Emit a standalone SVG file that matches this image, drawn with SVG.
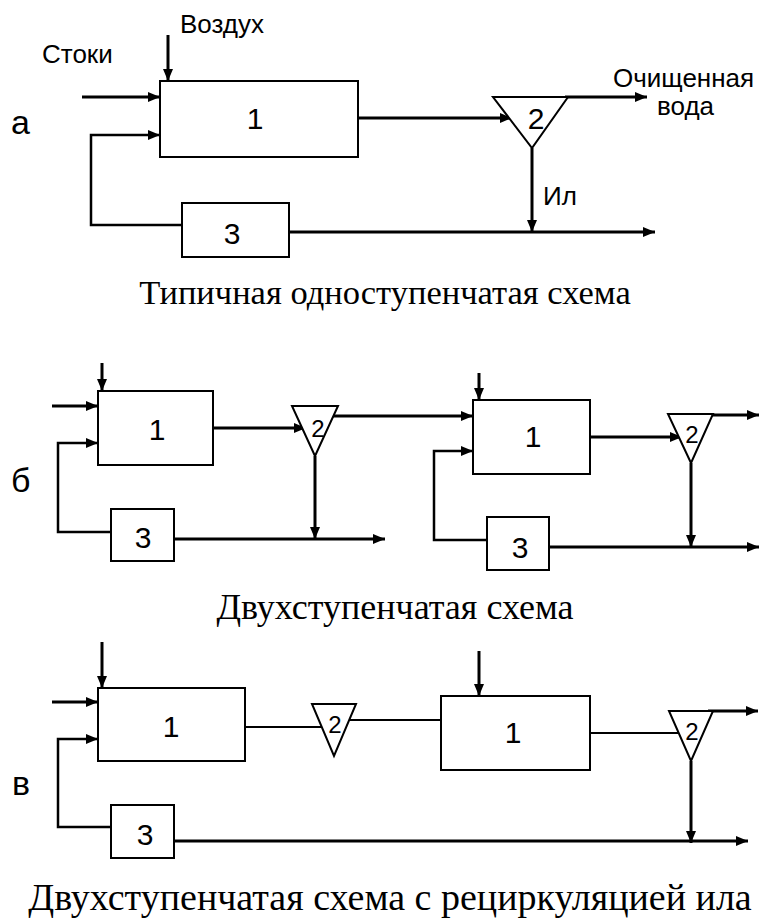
<svg xmlns="http://www.w3.org/2000/svg" width="760" height="924" viewBox="0 0 760 924">
<defs>
<marker id="ah" markerUnits="userSpaceOnUse" markerWidth="12" markerHeight="10" refX="12" refY="5" orient="auto">
<path d="M0,0 L12,5 L0,10 z" fill="#000"/>
</marker>
<style>
.box{fill:#fff;stroke:#000;stroke-width:2}
.tri{fill:#fff;stroke:#000;stroke-width:2}
.c{fill:none;stroke:#000;stroke-width:3}
.cr{fill:none;stroke:#000;stroke-width:2.5}
.ct{fill:none;stroke:#000;stroke-width:2}
.a{marker-end:url(#ah)}
.num{font-family:"Liberation Sans",Arial,sans-serif;font-size:30px;text-anchor:middle;fill:#000}
.lbl{font-family:"Liberation Sans",Arial,sans-serif;font-size:26px;fill:#000}
.sec{font-family:"Liberation Sans",Arial,sans-serif;font-size:34px;fill:#000}
.ttl{font-family:"Liberation Serif","Times New Roman",serif;font-size:36px;text-anchor:middle;fill:#000}
</style>
</defs>
<rect width="760" height="924" fill="#fff"/>

<g id="connectors">
<!-- section a -->
<line class="c a" x1="168" y1="35" x2="168" y2="81"/>
<line class="c a" x1="82" y1="97" x2="160" y2="97"/>
<polyline class="cr a" points="182,225 91,225 91,135 160,135"/>
<line class="c a" x1="358" y1="118" x2="512" y2="118"/>
<line class="c a" x1="565" y1="97" x2="647" y2="97"/>
<line class="c a" x1="532" y1="148" x2="532" y2="232"/>
<line class="c a" x1="289" y1="232" x2="655" y2="232"/>
<!-- section b -->
<line class="c a" x1="102" y1="363" x2="102" y2="391"/>
<line class="c a" x1="52" y1="406" x2="98" y2="406"/>
<polyline class="cr a" points="111,532 58,532 58,443 98,443"/>
<line class="c a" x1="213" y1="428" x2="306" y2="428"/>
<line class="c a" x1="333" y1="416" x2="473" y2="416"/>
<line class="c a" x1="315" y1="456" x2="315" y2="539"/>
<line class="c a" x1="174" y1="539" x2="385" y2="539"/>
<line class="c a" x1="479" y1="373" x2="479" y2="400"/>
<polyline class="cr a" points="487,540 434,540 434,451 473,451"/>
<line class="c a" x1="590" y1="437" x2="682" y2="437"/>
<line class="c a" x1="711" y1="415" x2="759" y2="415"/>
<line class="c a" x1="691" y1="463" x2="691" y2="547"/>
<line class="c a" x1="549" y1="547" x2="759" y2="547"/>
<!-- section v -->
<line class="c a" x1="102" y1="642" x2="102" y2="688"/>
<line class="c a" x1="52" y1="702" x2="98" y2="702"/>
<polyline class="cr a" points="111,827 58,827 58,739 98,739"/>
<line class="ct" x1="245" y1="727" x2="322" y2="727"/>
<line class="ct" x1="349" y1="720" x2="441" y2="720"/>
<line class="c a" x1="479" y1="651" x2="479" y2="696"/>
<line class="ct" x1="590" y1="733" x2="683" y2="733"/>
<line class="c a" x1="708" y1="711" x2="758" y2="711"/>
<line class="c a" x1="691" y1="761" x2="691" y2="843"/>
<line class="c a" x1="174" y1="841" x2="748" y2="841"/>
</g>

<g id="section-a">
<g id="a-box1"><rect class="box" x="160" y="81" width="198" height="76"/><text class="num" x="255" y="129">1</text></g>
<g id="a-tri2"><polygon class="tri" points="493,97 568,97 532,148"/><text class="num" x="536" y="129">2</text></g>
<g id="a-box3"><rect class="box" x="182" y="203" width="107" height="54"/><text class="num" x="232" y="244">3</text></g>
<text class="sec" x="11" y="134">а</text>
<text class="lbl" x="180" y="33">Воздух</text>
<text class="lbl" x="42" y="63">Стоки</text>
<text class="lbl" x="613" y="87">Очищенная</text>
<text class="lbl" x="657" y="115">вода</text>
<text class="lbl" x="543" y="205">Ил</text>
<text class="ttl" x="385" y="304" style="font-size:34.5px">Типичная одноступенчатая схема</text>
</g>

<g id="section-b">
<g id="b-box1a"><rect class="box" x="98" y="391" width="115" height="74"/><text class="num" x="157" y="440">1</text></g>
<g id="b-tri2a"><polygon class="tri" points="292,406 338,406 315,456"/><text class="num" x="318" y="437" style="font-size:24px">2</text></g>
<g id="b-box3a"><rect class="box" x="111" y="509" width="63" height="52"/><text class="num" x="143" y="548">3</text></g>
<g id="b-box1b"><rect class="box" x="473" y="400" width="117" height="74"/><text class="num" x="533" y="447">1</text></g>
<g id="b-tri2b"><polygon class="tri" points="668,414 713,414 691,463"/><text class="num" x="692" y="443" style="font-size:24px">2</text></g>
<g id="b-box3b"><rect class="box" x="487" y="517" width="62" height="53"/><text class="num" x="520" y="558">3</text></g>
<text class="sec" x="11" y="492">б</text>
<text class="ttl" x="395" y="619">Двухступенчатая схема</text>
</g>

<g id="section-v">
<g id="v-box1a"><rect class="box" x="98" y="688" width="147" height="73"/><text class="num" x="171" y="737">1</text></g>
<g id="v-tri2a"><polygon class="tri" points="312,704 356,704 334,756"/><text class="num" x="335" y="733" style="font-size:24px">2</text></g>
<g id="v-box3"><rect class="box" x="111" y="805" width="63" height="53"/><text class="num" x="145" y="845">3</text></g>
<g id="v-box1b"><rect class="box" x="441" y="696" width="149" height="74"/><text class="num" x="513" y="743">1</text></g>
<g id="v-tri2b"><polygon class="tri" points="669,711 713,711 691,761"/><text class="num" x="692" y="740" style="font-size:24px">2</text></g>
<text class="sec" x="12" y="795">в</text>
<text class="ttl" x="390" y="910" style="font-size:38px">Двухступенчатая схема с рециркуляцией ила</text>
</g>
</svg>
